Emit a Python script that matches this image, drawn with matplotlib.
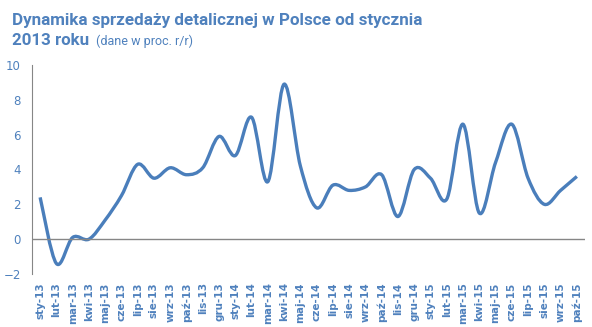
import numpy as np
import matplotlib
matplotlib.use("Agg")
import matplotlib.pyplot as plt
from matplotlib.path import Path
from matplotlib.patches import PathPatch

# miesiace od stycznia 2013 do pazdziernika 2015
months = ["sty", "lut", "mar", "kwi", "maj", "cze", "lip", "sie", "wrz", "paź", "lis", "gru"]
labels = [m + "-13" for m in months] + [m + "-14" for m in months] + [m + "-15" for m in months[:10]]
values = [2.4, -1.4, 0.1, 0.0, 1.1, 2.5, 4.3, 3.5, 4.1, 3.7, 4.1, 5.9,
          4.8, 7.0, 3.3, 8.9, 4.2, 1.8, 3.1, 2.8, 3.0, 3.7, 1.3, 4.0,
          3.5, 2.3, 6.6, 1.5, 4.4, 6.6, 3.5, 2.0, 2.8, 3.6]

blue = "#4a7ebb"
txt = "#4f81bd"
grey = "#868686"
W, H = 592, 327

fig = plt.figure(figsize=(5.92, 3.27), dpi=100)
ax = fig.add_axes([32 / W, 1 - 274 / H, 553 / W, 209 / H])

# wygladzona linia (jak w Excelu) - krzywe Beziera przez punkty
x = np.arange(len(values))
y = np.array(values)
pts = np.column_stack([x, y]).astype(float)
ext = np.vstack([pts[0], pts, pts[-1]])
verts = [pts[0]]
codes = [Path.MOVETO]
for i in range(len(pts) - 1):
    p0, p1, p2, p3 = ext[i], ext[i + 1], ext[i + 2], ext[i + 3]
    verts += [p1 + (p2 - p0) / 6, p2 - (p3 - p1) / 6, p2]
    codes += [Path.CURVE4] * 3
ax.add_patch(PathPatch(Path(verts, codes), fill=False, ec=blue, lw=2.4,
                       capstyle="butt", joinstyle="round"))

ax.set_xlim(-0.5, len(values) - 0.5)
ax.set_ylim(-2, 10)
ax.set_yticks(range(-2, 11, 2))
ax.set_xticks(x)
ax.set_xticklabels(labels, rotation=90, color=txt, fontsize=7.5, fontweight="bold")
ax.tick_params(axis="y", length=0, pad=8, labelcolor=txt, labelsize=8.5)
ax.tick_params(axis="x", length=0, pad=6)
for s in ["top", "right", "bottom"]:
    ax.spines[s].set_visible(False)
ax.spines["left"].set_color(grey)
ax.axhline(0, color=grey, lw=1)

# tytul - rozmiar dopasowany do szerokosci w pikselach
renderer = fig.canvas.get_renderer()


def fit_text(x0, base, s, width, size, **kw):
    t = fig.text(x0 / W, 1 - base / H, s, color=txt, fontsize=size,
                 va="baseline", family="Roboto", **kw)
    w = t.get_window_extent(renderer).width
    t.set_fontsize(size * width / w)
    return t


fit_text(12, 25, "Dynamika sprzedaży detalicznej w Polsce od stycznia", 411, 13, fontweight="bold")
fit_text(12, 45, "2013 roku", 77, 13, fontweight="bold")
fit_text(96, 45, "(dane w proc. r/r)", 97, 9)

fig.savefig("out.png", dpi=100)
